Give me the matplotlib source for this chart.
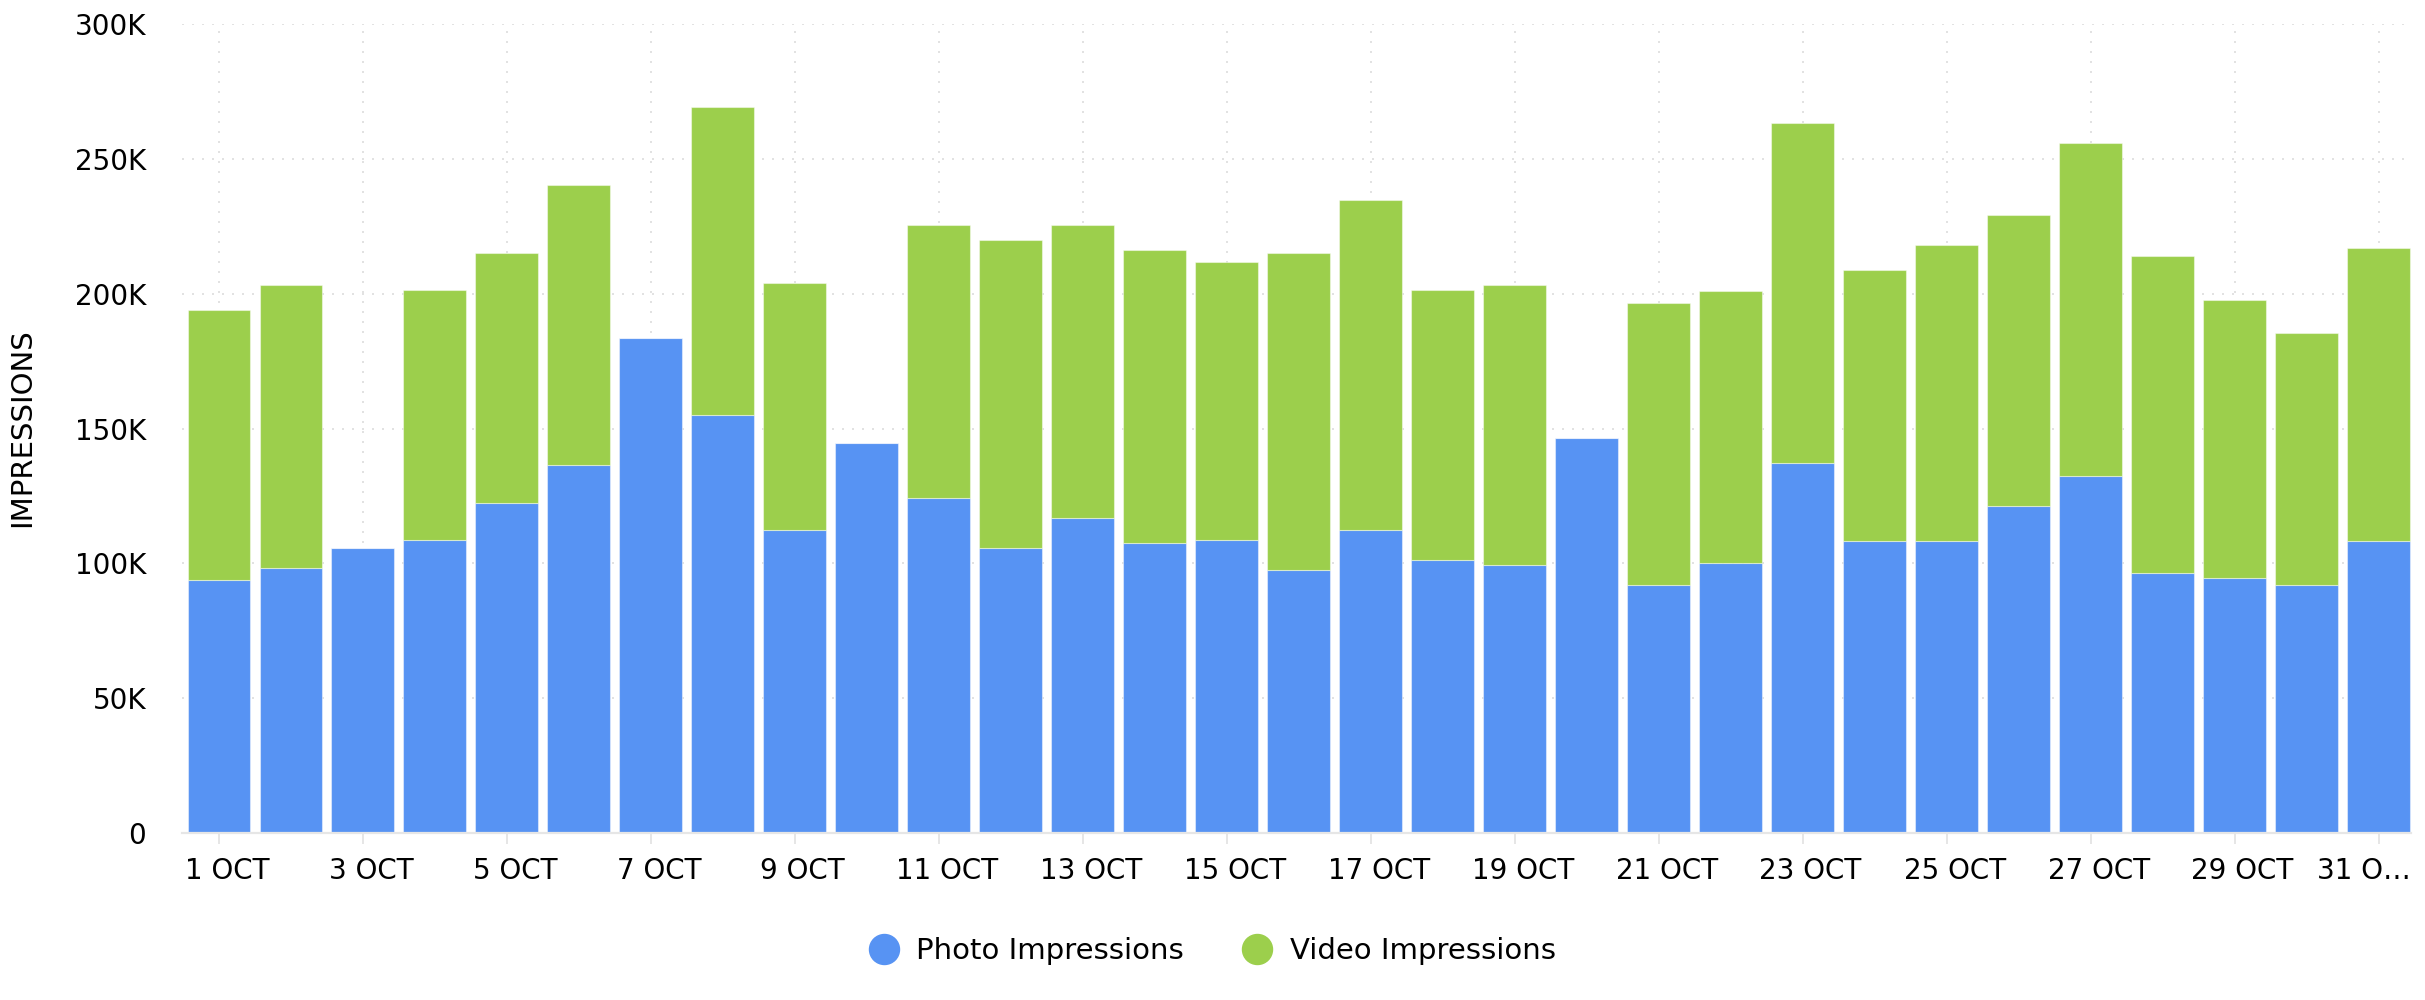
import matplotlib
matplotlib.use("Agg")
import matplotlib.pyplot as plt
import matplotlib.transforms as mtransforms
from matplotlib.lines import Line2D
import numpy as np

plt.rcParams['font.family'] = ['DejaVu Sans']

days = [f"{d} OCT" for d in range(1, 32)]
photo = [93.8, 98.2, 105.7, 108.5, 122.3, 136.4, 183.7, 154.9, 112.3, 144.7,
         124.2, 105.7, 116.8, 107.6, 108.5, 97.4, 112.3, 101.2, 99.3, 146.5,
         91.8, 100.1, 137.2, 108.4, 108.4, 121.4, 132.5, 96.3, 94.4, 91.8, 108.4]
total = [193.9, 203.1, 105.7, 201.4, 215.2, 240.4, 183.7, 269.1, 204.1, 144.7,
         225.4, 219.9, 225.4, 216.1, 211.6, 215.2, 234.8, 201.2, 203.1, 146.5,
         196.4, 201.1, 263.3, 208.7, 217.9, 229.0, 255.7, 214.1, 197.5, 185.5, 216.9]
photo_vals = np.array(photo) * 1000
video_vals = (np.array(total) - np.array(photo)) * 1000

ytick_vals = [0, 50000, 100000, 150000, 200000, 250000, 300000]
ytick_labels = ["0", "50K", "100K", "150K", "200K", "250K", "300K"]
xtick_idx = list(range(0, 31, 2))
xtick_labels = [days[i] if i != 30 else "31 O\u2026" for i in xtick_idx]

BLUE = "#5793f3"
GREEN = "#9ccf4c"

fig = plt.figure(figsize=(24.25, 10), dpi=100)
ax = fig.add_axes([0.0751, 0.167, 0.9942 - 0.0751, 0.976 - 0.167])

x = np.arange(len(days))
ax.bar(x, photo_vals, width=0.87, color=BLUE, edgecolor=(1, 1, 1, 0.45), linewidth=0.8, zorder=3)
ax.bar(x, video_vals, width=0.87, bottom=photo_vals, color=GREEN,
       edgecolor=(1, 1, 1, 0.45), linewidth=0.8, zorder=3)

ax.set_xlim(-0.51, 30.45)
ax.set_ylim(0, 300000)
ax.set_yticks(ytick_vals)
ax.set_yticklabels(ytick_labels)
ax.set_xticks(xtick_idx)
ax.set_xticklabels(xtick_labels)

ax.grid(True, color="#e2e2e2", linestyle=(0, (1, 4)), linewidth=1.44, zorder=0)
ax.set_axisbelow(True)

for s in ['top', 'right', 'left']:
    ax.spines[s].set_visible(False)
ax.spines['bottom'].set_color('#e6e6e6')
ax.spines['bottom'].set_linewidth(1.6)
ax.spines['bottom'].set_zorder(4)

ax.tick_params(axis='y', length=0, pad=26, labelsize=20, labelcolor='black')
ax.tick_params(axis='x', length=8, width=1.44, color='#e6e6e6', pad=9,
               labelsize=20, labelcolor='black')

for i, lab in enumerate(ax.get_xticklabels()):
    dx = 8 / 100 if i != len(xtick_idx) - 1 else -15 / 100
    lab.set_transform(lab.get_transform() + mtransforms.ScaledTranslation(dx, 0, fig.dpi_scale_trans))

fig.text(22 / 2425, 1 - 428 / 1000, "IMPRESSIONS", rotation=90, ha='center', va='center',
         fontsize=21, color='black')

handles = [Line2D([], [], linestyle='none', marker='o', markersize=21.6, color=BLUE),
           Line2D([], [], linestyle='none', marker='o', markersize=21.6, color=GREEN)]
fig.legend(handles, ["Photo Impressions", "Video Impressions"], loc='center',
           bbox_to_anchor=(0.5, 1 - 951 / 1000), ncol=2, frameon=False, fontsize=21,
           handlelength=1.0, handletextpad=0.63, columnspacing=2.0, borderpad=0)

fig.savefig("out.png", dpi=100, facecolor='white')
